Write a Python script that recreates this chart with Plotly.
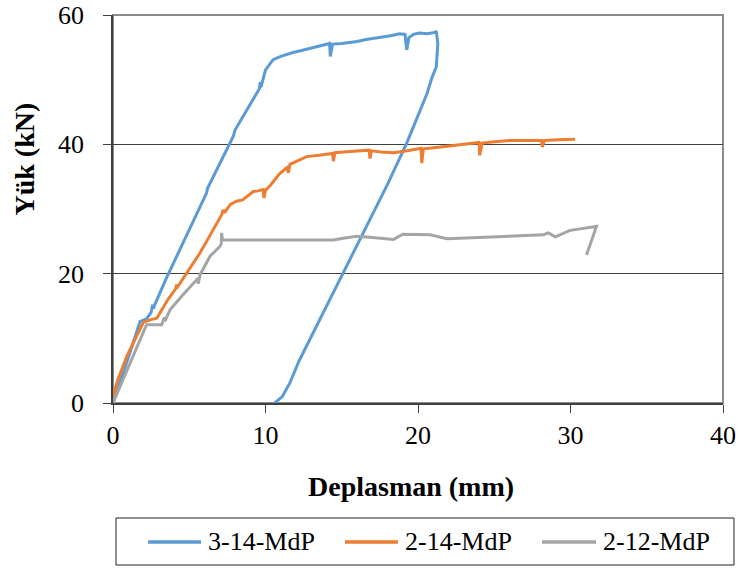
import plotly.graph_objects as go

# ---- data ----
s1_name = "3-14-MdP"
s1_x = [0, 0.5, 1.0, 1.77, 2.2, 2.5, 2.6, 2.66, 2.72, 3.5, 4.5, 5.3, 6.14, 6.2, 7.0, 7.9, 8.0, 8.8, 9.6, 9.65, 9.7,
        10.0, 10.5, 11.0, 11.8, 12.5, 13.5, 14.2, 14.25, 14.32, 14.4, 15.0, 16.0, 16.6, 17.5, 18.2, 18.8, 19.15,
        19.26, 19.4, 19.7, 20.1, 20.6, 21.1, 21.2, 21.3, 21.2, 20.9, 20.6, 20.0, 19.26, 18.0, 16.4, 14.5, 13.1,
        12.2, 11.6, 11.1, 10.6]
s1_y = [0, 3.4, 7.0, 12.6, 13.0, 14.0, 15.2, 14.6, 15.1, 19.3, 24.2, 28.3, 32.5, 33.2, 37.0, 41.3, 42.2, 45.5, 48.6,
        49.6, 48.8, 51.5, 53.1, 53.6, 54.2, 54.6, 55.2, 55.6, 53.6, 54.4, 55.5, 55.6, 55.9, 56.2, 56.5, 56.8, 57.1,
        57.0, 54.6, 56.5, 57.0, 57.2, 57.1, 57.3, 57.5, 55.6, 52.0, 50.2, 47.9, 44.5, 40.2, 33.8, 26.3, 17.5, 10.8,
        6.5, 3.1, 1.0, 0]

s2_name = "2-14-MdP"
s2_x = [0, 0.3, 0.9, 1.5, 2.0, 2.5, 2.87, 3.0, 3.6, 4.1, 4.18, 4.25, 5.0, 5.7, 6.5, 7.1, 7.23, 7.3, 7.7, 8.1,
        8.5, 8.8, 9.2, 9.5, 9.85, 9.9, 10.0, 10.3, 10.9, 11.4, 11.5, 11.6, 12.2, 12.7, 13.5, 14.4, 14.45, 14.55,
        15.5, 16.8, 16.85, 16.95, 17.6, 18.4, 19.3, 20.2, 20.25, 20.35, 21.5, 22.8, 24.0, 24.05, 24.2, 25.0, 26.0,
        27.0, 28.1, 28.15, 28.3, 29.2, 30.3]
s2_y = [1.0, 3.5, 7.2, 10.2, 12.5, 12.9, 13.1, 13.6, 16.0, 17.6, 18.3, 18.0, 20.6, 23.2, 26.5, 29.0, 29.9, 29.4,
        30.7, 31.2, 31.4, 32.0, 32.7, 32.8, 33.0, 31.7, 32.9, 33.6, 35.4, 36.4, 35.6, 36.9, 37.6, 38.1, 38.3, 38.6,
        37.4, 38.7, 38.9, 39.1, 37.8, 39.0, 38.8, 38.7, 39.0, 39.4, 37.1, 39.3, 39.6, 40.0, 40.3, 38.3, 40.2, 40.4,
        40.6, 40.6, 40.6, 39.6, 40.6, 40.7, 40.8]

s3_name = "2-12-MdP"
s3_x = [0, 1.0, 2.2, 3.2, 3.35, 3.45, 3.74, 4.5, 5.5, 5.6, 5.7, 6.36, 7.0, 7.1, 7.12, 7.18, 8.0, 10.0, 12.9,
        14.45, 15.2, 16.0, 17.0, 18.4, 19.0, 20.8, 21.9, 25.0, 28.2, 28.55, 29.0, 29.97, 31.7, 31.05]
s3_y = [0, 5.5, 12.1, 12.1, 13.2, 12.9, 14.4, 16.5, 19.1, 18.5, 19.8, 22.7, 24.2, 24.6, 26.3, 25.2, 25.2, 25.2,
        25.3, 25.2, 25.5, 25.8, 25.6, 25.3, 26.1, 26.0, 25.4, 25.7, 26.0, 26.3, 25.7, 26.7, 27.3, 22.9]

x_ticks = [0, 10, 20, 30, 40]
y_ticks = [0, 20, 40, 60]
x_title = "Deplasman (mm)"
y_title = "Yük (kN)"

colors = ["#5B9BD5", "#ED7D31", "#A5A5A5"]
FONT = "Liberation Serif"

fig = go.Figure()
for nm, xs, ys, c in [(s1_name, s1_x, s1_y, colors[0]),
                      (s2_name, s2_x, s2_y, colors[1]),
                      (s3_name, s3_x, s3_y, colors[2])]:
    fig.add_trace(go.Scatter(x=xs, y=ys, mode="lines", name=nm, showlegend=False,
                             line=dict(color=c, width=3, shape="linear")))

# plot-area border (grey, top/right)
fig.add_shape(type="rect", xref="paper", yref="paper", x0=0, x1=1, y0=0, y1=1,
              line=dict(color="#8c8c8c", width=2), layer="below")

# custom legend
fig.add_shape(type="rect", xref="paper", yref="paper", x0=0.0049, x1=1.018, y0=-0.4175, y1=-0.2964,
              line=dict(color="#222222", width=1))
leg_line_x = [(0.0574, 0.1443), (0.3803, 0.4672), (0.7033, 0.7918)]
leg_text_x = [0.1525, 0.4754, 0.80]
for (a, b), tx, nm, c in zip(leg_line_x, leg_text_x, [s1_name, s2_name, s3_name], colors):
    fig.add_shape(type="line", xref="paper", yref="paper", x0=a, x1=b, y0=-0.3582, y1=-0.3582,
                  line=dict(color=c, width=3.5))
    fig.add_annotation(xref="paper", yref="paper", x=tx, y=-0.3582, xanchor="left", yanchor="middle",
                       text=nm, showarrow=False, font=dict(family=FONT, size=26, color="black"))

# axis titles
fig.add_annotation(xref="paper", yref="paper", x=0.4885, y=-0.215, xanchor="center", yanchor="middle",
                   text="<b>%s</b>" % x_title, showarrow=False, font=dict(family=FONT, size=28, color="black"))
fig.add_annotation(xref="paper", yref="paper", x=-0.145, y=0.629, xanchor="center", yanchor="middle",
                   text="<b>%s</b>" % y_title, textangle=-90, showarrow=False,
                   font=dict(family=FONT, size=28, color="black"))

fig.update_xaxes(range=[0, 40], tickvals=x_ticks, ticks="outside", ticklen=8, tickwidth=1.2,
                 tickcolor="#404040", showline=True, linecolor="#404040", linewidth=1.5,
                 showgrid=False, zeroline=False, ticklabelstandoff=0, automargin=False,
                 ticklabeloverflow="allow",
                 tickfont=dict(family=FONT, size=26, color="black"))
fig.update_yaxes(range=[0, 60], tickvals=y_ticks, ticks="outside", ticklen=8, tickwidth=1.2,
                 tickcolor="#404040", showline=True, linecolor="#404040", linewidth=1.5,
                 showgrid=True, gridcolor="#404040", gridwidth=1, zeroline=False, ticklabelstandoff=14,
                 automargin=False, ticklabeloverflow="allow",
                 tickfont=dict(family=FONT, size=26, color="black"))

fig.update_layout(width=739, height=570, margin=dict(l=113, r=16, t=15, b=167, autoexpand=False),
                  plot_bgcolor="white", paper_bgcolor="white", showlegend=False)

fig.write_html("out.html", config={"displayModeBar": False},
               post_script="document.body.style.margin='0';")
